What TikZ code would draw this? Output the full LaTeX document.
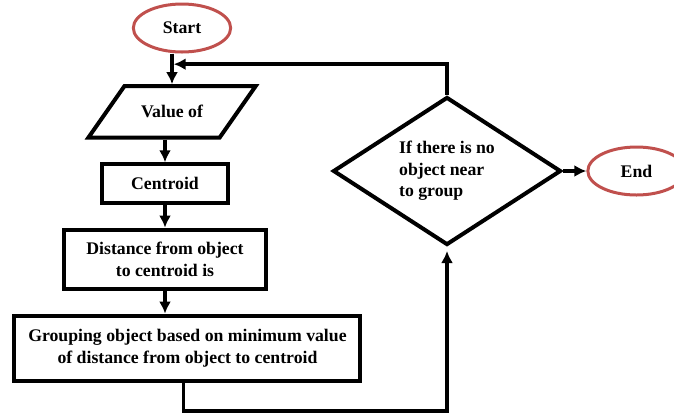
\documentclass[tikz,border=0pt]{standalone}
\usepackage{fontspec}
\setmainfont{Liberation Serif}
\usetikzlibrary{shapes.geometric, arrows.meta, positioning}
\definecolor{ovalRed}{RGB}{192,80,77}
\tikzstyle{block} = [rectangle, 
			draw, 
			line width = 3pt, 
			align = center, 
			font = \bfseries\fontsize{13.3}{16}\selectfont]
\tikzstyle{io} = [trapezium, 
			draw, 
			line width = 3pt, 
			trapezium left angle = 55, 
			trapezium right angle = 125, 
			inner xsep = 12.5pt, 
			inner ysep = 14.5pt, 
			font = \bfseries\fontsize{13.3}{16}\selectfont]
\tikzstyle{decision} = [diamond, 
			draw, 
			line width = 3pt, 
			aspect = 1.54, 
			inner sep = 0pt, 
			align = left, 
			font = \bfseries\fontsize{13.3}{16.2}\selectfont]
\tikzstyle{line} = [draw, line width = 2.6pt, -{Latex[length=9pt, width=9pt]}]
\tikzstyle{oval} = [draw = ovalRed, ellipse, line width = 2.25pt, minimum width = 73pt, minimum height = 36pt, font = \bfseries\fontsize{13.3}{16}\selectfont]

\begin{document}
\begin{tikzpicture}
	\useasboundingbox (0,0) rectangle (505.5pt,-309pt);
	\node [oval] (startOval) at (136.5pt,-21pt) {Start};
	\node [io, below=23pt of startOval, xshift=-7.5pt] (valueIn) {Value of};
	\node [block, below=17pt of valueIn, xshift=-5.25pt, minimum width=95pt, minimum height=29pt] (centroidBox) {Centroid};
	\node [block, below=17pt of centroidBox, minimum width=151pt, minimum height=44.5pt] (distBox) {Distance from object\\to centroid is};
	\node [block, below=17pt of distBox, xshift=16.85pt, minimum width=259.5pt, minimum height=49pt] (groupBox) {Grouping object based on minimum value\\of distance from object to centroid};
	\node [decision, minimum width=171pt, minimum height=111pt] (checkObj) at (335.25pt,-128.25pt) {If there is no\\object near\\to group};
	\node [oval, right=17.5pt of checkObj] (endOval) {End};
	\path (valueIn.north) ++(0,15pt) coordinate (joinPt);
	\path [line] (startOval.south -| valueIn.north) -- (valueIn.north);
	\path [line] (valueIn.south -| centroidBox.north) -- (centroidBox.north);
	\path [line] (centroidBox) -- (distBox);
	\path [line] (distBox.south) -- (distBox.south |- groupBox.north);
	\path [line] ([xshift=-3pt]groupBox.south) -- ++(0,-21pt) -| ([yshift=-3pt]checkObj.south);
	\path [line] (checkObj.north) |- ([xshift=1.3pt]joinPt);
	\path [line] (checkObj) -- (endOval);
\end{tikzpicture}
\end{document}
